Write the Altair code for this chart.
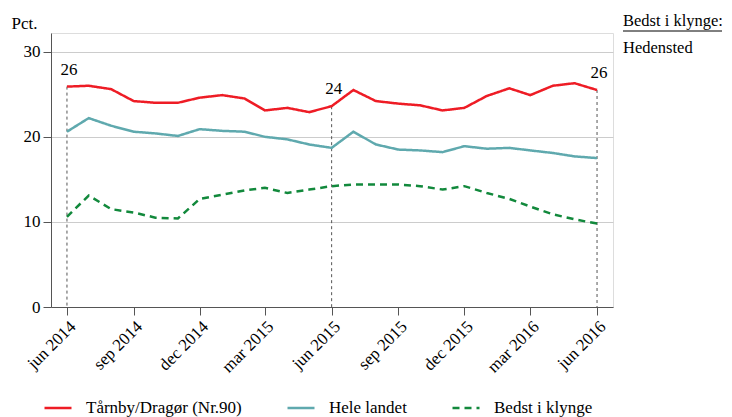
import altair as alt
import pandas as pd

# ---- data ----
months = pd.date_range("2014-06-01", "2016-06-01", freq="MS").strftime("%Y-%m-%d").tolist()
series_names = ["Tårnby/Dragør (Nr.90)", "Hele landet", "Bedst i klynge"]
taarnby = [25.9, 26.0, 25.6, 24.2, 24.0, 24.0, 24.6, 24.9, 24.5, 23.1, 23.4, 22.9, 23.6,
           25.5, 24.2, 23.9, 23.7, 23.1, 23.4, 24.8, 25.7, 24.9, 26.0, 26.3, 25.5]
hele_landet = [20.6, 22.2, 21.3, 20.6, 20.4, 20.1, 20.9, 20.7, 20.6, 20.0, 19.7, 19.1, 18.7,
               20.6, 19.1, 18.5, 18.4, 18.2, 18.9, 18.6, 18.7, 18.4, 18.1, 17.7, 17.5]
bedst = [10.6, 13.1, 11.5, 11.1, 10.5, 10.4, 12.7, 13.2, 13.7, 14.0, 13.4, 13.8, 14.2,
         14.4, 14.4, 14.4, 14.2, 13.8, 14.2, 13.4, 12.7, 11.8, 10.9, 10.3, 9.8]
annot_months = ["2014-06-01", "2015-06-01", "2016-06-01"]
annot_labels = ["26", "24", "26"]
y_ticks = [0, 10, 20, 30]
x_tick_months = [(2014, 6), (2014, 9), (2014, 12), (2015, 3), (2015, 6),
                 (2015, 9), (2015, 12), (2016, 3), (2016, 6)]
side_title = "Bedst i klynge:"
side_name = "Hedensted"

colors = ["#ee1c25", "#5fa9ae", "#12893c"]
dashes = [[1, 0], [1, 0], [7, 5]]
FONT = "Liberation Serif"

rows = []
for name, vals in zip(series_names, [taarnby, hele_landet, bedst]):
    for m, v in zip(months, vals):
        rows.append({"date": m, "series": name, "value": v})
df = pd.DataFrame(rows)

red_lookup = dict(zip(months, taarnby))
ann = pd.DataFrame({
    "date": annot_months,
    "value": [red_lookup[m] for m in annot_months],
    "zero": [0] * len(annot_months),
    "label": annot_labels,
})

x_enc = alt.X(
    "date:T",
    scale=alt.Scale(type="utc",
                    domain=[alt.DateTime(year=2014, month=5, date=10, utc=True),
                            alt.DateTime(year=2016, month=6, date=23, utc=True)]),
    axis=alt.Axis(
        values=[alt.DateTime(year=y, month=m, date=1, utc=True) for y, m in x_tick_months],
        labelExpr="lower(utcFormat(datum.value, '%b %Y'))",
        labelAngle=-45, labelAlign="right", labelBaseline="top",
        labelFont=FONT, labelFontSize=17, labelColor="#000",
        tickSize=8, tickColor="#555", domainColor="#555",
        grid=False, title=None, labelPadding=3,
    ),
)
y_enc = alt.Y(
    "value:Q",
    scale=alt.Scale(domain=[0, 32.2], nice=False),
    axis=alt.Axis(
        values=y_ticks, grid=True, gridColor="#cccccc",
        labelFont=FONT, labelFontSize=17, labelColor="#000", labelPadding=3,
        tickSize=8, tickColor="#555", domainColor="#555",
        title="Pct.", titleAngle=0, titleAlign="left", titleBaseline="alphabetic",
        titleX=-40, titleY=-5, titleFont=FONT, titleFontSize=17,
        titleFontWeight="normal", titleColor="#000",
    ),
)

legend = alt.Legend(
    orient="none", legendX=-8, legendY=360, direction="horizontal", title=None,
    symbolType="stroke", symbolSize=729, symbolStrokeWidth=2.5,
    labelFont=FONT, labelFontSize=17, labelColor="#000", labelOffset=13,
    columnPadding=40, labelLimit=400, padding=0,
)

lines = alt.Chart(df).mark_line(strokeWidth=2.5).encode(
    x=x_enc, y=y_enc,
    color=alt.Color("series:N", scale=alt.Scale(domain=series_names, range=colors),
                    legend=legend, sort=series_names),
    strokeDash=alt.StrokeDash("series:N", scale=alt.Scale(domain=series_names, range=dashes),
                              legend=legend, sort=series_names),
)

rules = alt.Chart(ann).mark_rule(color="#555", strokeDash=[3, 3], strokeWidth=1).encode(
    x=x_enc, y=y_enc, y2="zero:Q",
)

labels = alt.Chart(ann).mark_text(
    dy=-12, dx=2, baseline="alphabetic", align="center", font=FONT, fontSize=17, color="#000"
).encode(x=x_enc, y=y_enc, text="label:N")

side = pd.DataFrame({"t": [side_title]})
side_text = alt.Chart(side).mark_text(
    align="left", baseline="alphabetic", font=FONT, fontSize=16.5, color="#000"
).encode(x=alt.value(572), y=alt.value(-7), text="t:N")
underline = alt.Chart(side).mark_rule(color="#000", strokeWidth=1).encode(
    x=alt.value(572), x2=alt.value(671), y=alt.value(-2)
)
side2 = pd.DataFrame({"t": [side_name]})
side_text2 = alt.Chart(side2).mark_text(
    align="left", baseline="alphabetic", font=FONT, fontSize=16.5, color="#000"
).encode(x=alt.value(572), y=alt.value(20), text="t:N")

chart = alt.layer(rules, lines, labels, side_text, underline, side_text2).properties(
    width=562, height=274,
    autosize=alt.AutoSizeParams(type="none"),
    padding={"left": 43, "top": 25, "right": 111, "bottom": 110},
).configure_view(stroke=None).configure(font=FONT).configure_axis(
    labelFont=FONT, titleFont=FONT
).configure_legend(labelFont=FONT).configure_text(font=FONT)

chart.save("out.html", embed_options={"renderer": "svg", "actions": False})
